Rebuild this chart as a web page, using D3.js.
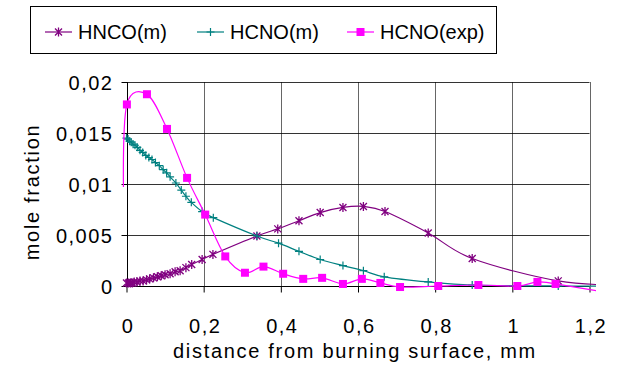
<!DOCTYPE html>
<html>
<head>
<meta charset="utf-8">
<script src="https://cdn.jsdelivr.net/npm/d3@7"></script>
<style>
  body { margin: 0; background: #fff; }
  svg text { font-family: "Liberation Sans", Arial, sans-serif; fill: #000; }
</style>
</head>
<body>
<div id="chart"></div>
<script>
var svgWidth = 620;
var svgHeight = 367;

// data
var hncoX = [0, 0.005, 0.01, 0.015, 0.02, 0.027, 0.035, 0.043, 0.052, 0.06, 0.07, 0.08, 0.09, 0.1, 0.113, 0.126, 0.139, 0.154, 0.169, 0.196, 0.224, 0.338, 0.392, 0.447, 0.502, 0.561, 0.614, 0.67, 0.782, 0.896, 1.119, 1.3];
var hncoY = [0.0003, 0.0003, 0.0003, 0.0003, 0.0004, 0.0004, 0.0005, 0.0005, 0.0006, 0.0007, 0.0008, 0.0009, 0.001, 0.0011, 0.0012, 0.0014, 0.0015, 0.0018, 0.0021, 0.0026, 0.0031, 0.0049, 0.0056, 0.0064, 0.0072, 0.0077, 0.0078, 0.0073, 0.0052, 0.0027, 0.0005, 0.0001];

var hcnoX = [0, 0.004, 0.008, 0.012, 0.017, 0.022, 0.028, 0.035, 0.042, 0.05, 0.058, 0.066, 0.075, 0.085, 0.095, 0.104, 0.113, 0.128, 0.142, 0.154, 0.168, 0.196, 0.225, 0.338, 0.394, 0.447, 0.502, 0.561, 0.614, 0.668, 0.782, 0.896, 1.119, 1.3];
var hcnoY = [0.0145, 0.0144, 0.0142, 0.0141, 0.0139, 0.0138, 0.0136, 0.0133, 0.0131, 0.0128, 0.0126, 0.0124, 0.0121, 0.0118, 0.0114, 0.0111, 0.0107, 0.0101, 0.0094, 0.0088, 0.0082, 0.0073, 0.0067, 0.0049, 0.0042, 0.0034, 0.0026, 0.002, 0.0015, 0.0009, 0.0004, 0.0001, 0.0, 0.0];

var expX = [-0.008, 0.001, 0.053, 0.105, 0.157, 0.204, 0.256, 0.307, 0.355, 0.406, 0.458, 0.507, 0.561, 0.61, 0.658, 0.709, 0.808, 0.912, 1.013, 1.065, 1.112, 1.3];
var expY = [0.0097, 0.0178, 0.0188, 0.0154, 0.0106, 0.007, 0.0029, 0.0013, 0.0019, 0.0012, 0.0007, 0.0008, 0.0002, 0.0007, 0.0003, -0.0001, 0.0, 0.0001, 0.0, 0.0004, 0.0002, -0.001];

var xTicks = [0, 0.2, 0.4, 0.6, 0.8, 1, 1.2];
var yTicks = [0, 0.005, 0.01, 0.015, 0.02];
var seriesNames = ["HNCO(m)", "HCNO(m)", "HCNO(exp)"];
var seriesColors = ["#800080", "#008080", "#ff00ff"];

var series = [
    { name: seriesNames[0], color: seriesColors[0], marker: "star", pts: hncoX.map((x, i) => [x, hncoY[i]]) },
    { name: seriesNames[1], color: seriesColors[1], marker: "plus", pts: hcnoX.map((x, i) => [x, hcnoY[i]]) },
    { name: seriesNames[2], color: seriesColors[2], marker: "square", pts: expX.map((x, i) => [x, expY[i]]) }
];

var x = d3.scaleLinear().domain([0, 1.2]).range([126.5, 589.5]);
var y = d3.scaleLinear().domain([0, 0.02]).range([286, 82]);

var fmt = d => String(d).replace(".", ",");

var svg = d3.select("#chart").append("svg")
    .attr("width", svgWidth)
    .attr("height", svgHeight);

// grid
svg.append("g").selectAll("line")
    .data(yTicks.slice(1))
    .enter().append("line")
    .attr("x1", x(0)).attr("x2", x(1.2))
    .attr("y1", d => Math.round(y(d)) + 0.5).attr("y2", d => Math.round(y(d)) + 0.5)
    .attr("stroke", "#000").attr("stroke-opacity", 0.8);

svg.append("g").selectAll("line")
    .data(xTicks.slice(1))
    .enter().append("line")
    .attr("x1", d => Math.round(x(d)) + 0.5).attr("x2", d => Math.round(x(d)) + 0.5)
    .attr("y1", y(0.02)).attr("y2", y(0))
    .attr("stroke", "#000").attr("stroke-opacity", 0.6);

// axes
var xAxis = svg.append("g")
    .attr("transform", `translate(0, ${Math.round(y(0)) + 0.5})`)
    .call(d3.axisBottom(x).tickValues(xTicks).tickFormat(fmt).tickSize(6).tickPadding(26));
var yAxis = svg.append("g")
    .attr("transform", `translate(${Math.round(x(0)) + 0.5}, 0)`)
    .call(d3.axisLeft(y).tickValues(yTicks).tickFormat(fmt).tickSize(6).tickPadding(9));

[xAxis, yAxis].forEach(function(g) {
    g.selectAll(".tick line").attr("stroke", "#000");
    g.selectAll("text").attr("font-size", 20).attr("letter-spacing", "1.5px")
        .attr("font-family", "'Liberation Sans', Arial, sans-serif");
});
xAxis.select(".domain").attr("stroke", "#000").attr("d", `M${x(0)},0H${x(1.2)}`);
yAxis.select(".domain").attr("stroke", "#000").attr("d", `M0,${y(0)}V${y(0.02)}`);
xAxis.selectAll("text").attr("dx", "1px");
yAxis.selectAll("text").attr("dy", "0.35em").attr("dx", "1px");

// clip for the curves
svg.append("clipPath").attr("id", "plotClip")
    .append("rect").attr("x", 118).attr("y", 76).attr("width", 478).attr("height", 220);

var line = d3.line()
    .x(d => x(d[0]))
    .y(d => y(d[1]))
    .curve(d3.curveCardinal.tension(0));

var plot = svg.append("g").attr("clip-path", "url(#plotClip)");

function drawMarker(g, type, color) {
    if (type === "square") {
        g.append("rect").attr("x", -4).attr("y", -4).attr("width", 8).attr("height", 8).attr("fill", color);
    } else if (type === "plus") {
        g.append("path").attr("d", "M-4,0H4M0,-4V4").attr("stroke", color).attr("stroke-width", 1.2).attr("fill", "none");
    } else {
        g.append("path").attr("d", "M-3.5,-3.5L3.5,3.5M-3.5,3.5L3.5,-3.5M0,-4.5V4.5").attr("stroke", color).attr("stroke-width", 1.3).attr("fill", "none");
    }
}

series.forEach(function(s) {
    plot.append("path")
        .datum(s.pts)
        .attr("d", line)
        .attr("fill", "none")
        .attr("stroke", s.color)
        .attr("stroke-width", 1.2);

    plot.selectAll(null)
        .data(s.pts.filter(p => p[0] >= 0 && p[0] <= 1.2))
        .enter().append("g")
        .attr("transform", d => `translate(${x(d[0])}, ${y(d[1])})`)
        .each(function() { drawMarker(d3.select(this), s.marker, s.color); });
});

// axis titles
svg.append("text")
    .attr("x", 355)
    .attr("y", 358)
    .attr("text-anchor", "middle")
    .attr("font-size", 20)
    .attr("letter-spacing", "1.7px")
    .text("distance from burning surface, mm");

svg.append("text")
    .attr("transform", "translate(39, 192) rotate(-90)")
    .attr("text-anchor", "middle")
    .attr("font-size", 20)
    .attr("letter-spacing", "1.7px")
    .text("mole fraction");

// legend
var legend = svg.append("g");
legend.append("rect")
    .attr("x", 30.5).attr("y", 6.5).attr("width", 466).attr("height", 47)
    .attr("fill", "#fff").attr("stroke", "#000");

var legendX = [45, 197, 347];
series.forEach(function(s, i) {
    var g = legend.append("g").attr("transform", `translate(${legendX[i]}, 32)`);
    g.append("line").attr("x1", 0).attr("x2", 27).attr("stroke", s.color).attr("stroke-width", 1.2);
    drawMarker(g.append("g").attr("transform", "translate(13.5, 0)"), s.marker, s.color);
    g.append("text").attr("x", 33).attr("y", 7).attr("font-size", 20).text(s.name);
});
</script>
</body>
</html>
